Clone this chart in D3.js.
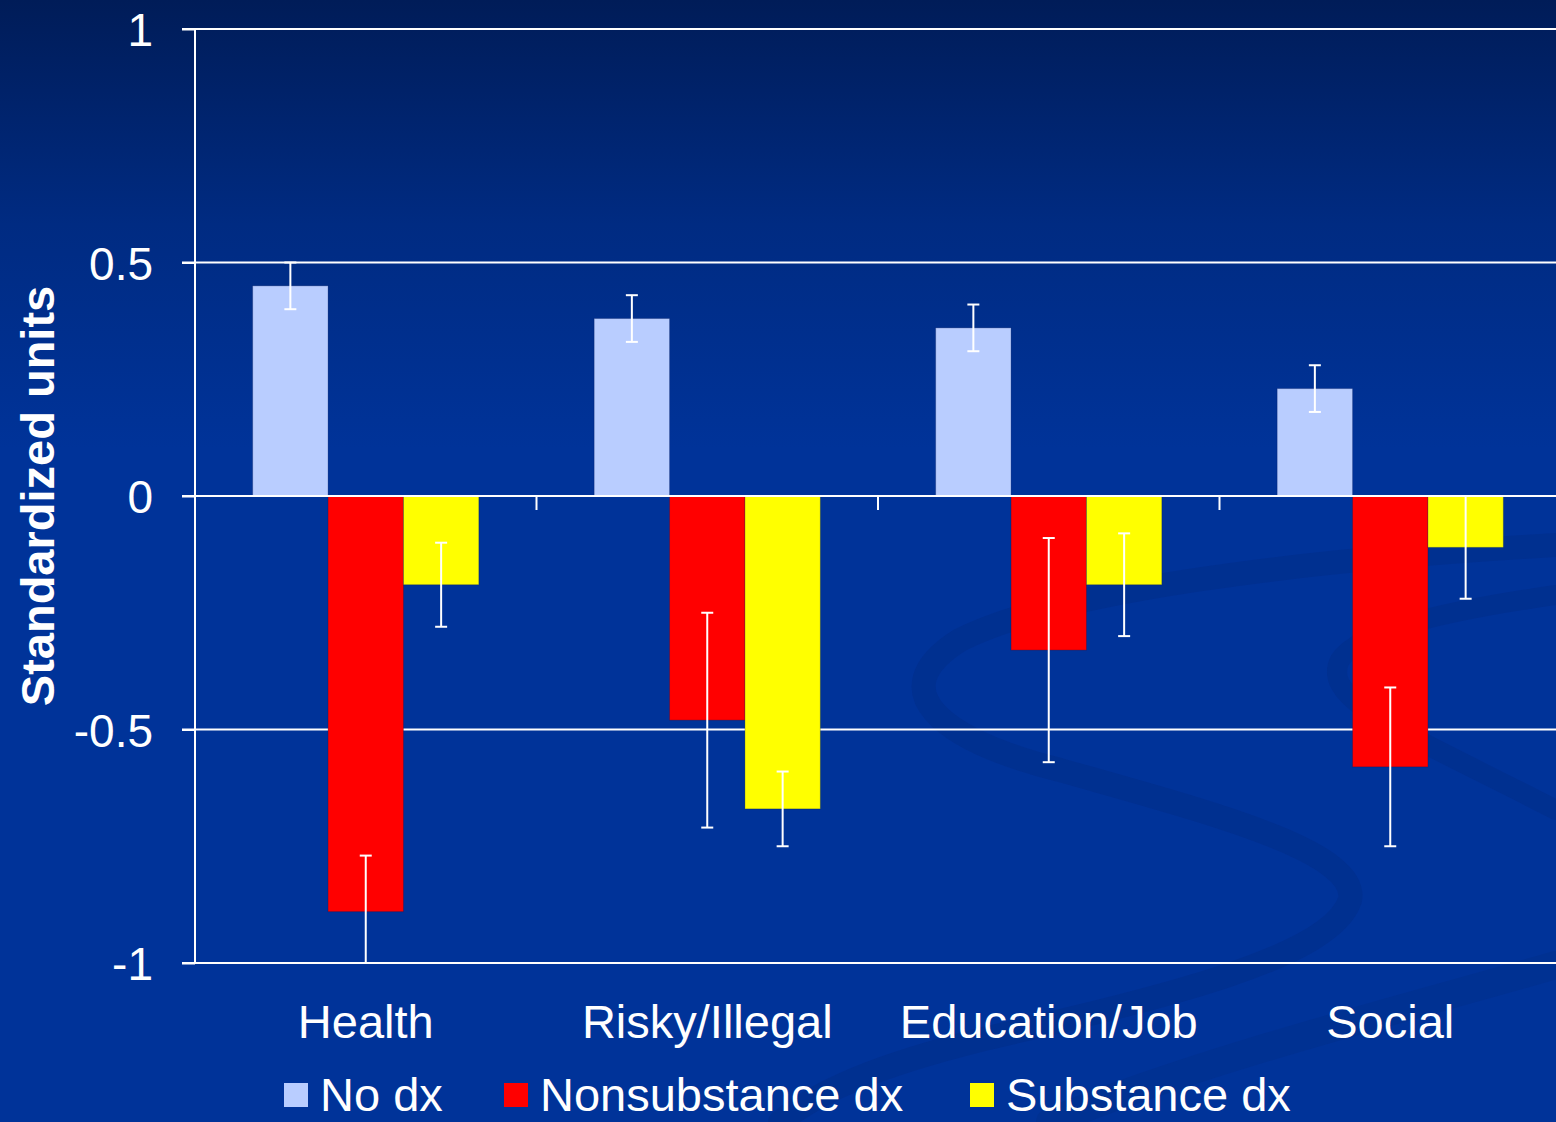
<!DOCTYPE html>
<html>
<head>
<meta charset="utf-8">
<script src="https://cdn.jsdelivr.net/npm/d3@7"></script>
<style>
  html, body { margin: 0; padding: 0; background: #003399; }
  svg { display: block; }
  text { font-family: "Liberation Sans", Arial, sans-serif; fill: #ffffff; }
</style>
</head>
<body>
<svg id="chart" width="1556" height="1122"></svg>
<script>
// ---- data ----
const categories = ["Health", "Risky/Illegal", "Education/Job", "Social"];
const seriesNames = ["No dx", "Nonsubstance dx", "Substance dx"];
const seriesColors = ["#b9cdff", "#ff0000", "#ffff00"];
const noDx = [0.45, 0.38, 0.36, 0.23];
const nonsubDx = [-0.89, -0.48, -0.33, -0.58];
const subDx = [-0.19, -0.67, -0.19, -0.11];
const noDxLow = [0.40, 0.33, 0.31, 0.18];
const noDxHigh = [0.50, 0.43, 0.41, 0.28];
const nonsubLow = [-1.00, -0.71, -0.57, -0.75];
const nonsubHigh = [-0.77, -0.25, -0.09, -0.41];
const subLow = [-0.28, -0.75, -0.30, -0.22];
const subHigh = [-0.10, -0.59, -0.08, 0.00];
const yTicks = [-1, -0.5, 0, 0.5, 1];
const yTickLabels = ["-1", "-0.5", "0", "0.5", "1"];
const yTitle = "Standardized units";

// ---- build rows ----
const values = [noDx, nonsubDx, subDx];
const lows = [noDxLow, nonsubLow, subLow];
const highs = [noDxHigh, nonsubHigh, subHigh];
const rows = [];
categories.forEach((c, i) => {
  seriesNames.forEach((s, j) => {
    rows.push({cat: c, series: s, si: j, v: values[j][i], lo: lows[j][i], hi: highs[j][i]});
  });
});

const svg = d3.select("#chart");
const W = 1556, H = 1122;

// ---- background ----
const defs = svg.append("defs");
const grad = defs.append("linearGradient").attr("id", "bg").attr("x1", 0).attr("y1", 0).attr("x2", 0).attr("y2", 1);
grad.append("stop").attr("offset", "0%").attr("stop-color", "#001c58");
grad.append("stop").attr("offset", "20%").attr("stop-color", "#002b82");
grad.append("stop").attr("offset", "40%").attr("stop-color", "#003399");
grad.append("stop").attr("offset", "100%").attr("stop-color", "#003399");
svg.append("rect").attr("width", W).attr("height", H).attr("fill", "url(#bg)");

// decorative swirls
const swirl = svg.append("g").attr("fill", "none").attr("stroke", "#00308f").attr("stroke-linecap", "round");
swirl.append("path")
  .attr("d", "M1556,545 C1300,560 1060,590 960,640 C880,690 940,740 1060,770 C1200,810 1360,850 1350,900 C1330,960 1150,1000 980,1040 C880,1065 820,1090 780,1122")
  .attr("stroke-width", 24).attr("opacity", 0.9);
swirl.append("path")
  .attr("d", "M1556,595 C1450,610 1360,630 1340,660 C1320,700 1400,730 1556,810")
  .attr("stroke-width", 20).attr("opacity", 0.9);
swirl.append("path")
  .attr("d", "M1556,965 C1400,1010 1200,1060 1050,1122")
  .attr("stroke-width", 28).attr("opacity", 0.7);

// ---- scales ----
const plotLeft = 195, plotTop = 29, plotBottom = 963;
const bandStep = 341.5;
const x0 = d3.scaleBand().domain(categories).range([plotLeft, plotLeft + bandStep * categories.length]).padding(0);
const x1 = d3.scaleBand().domain(seriesNames).range([0, x0.bandwidth()]).paddingInner(0).paddingOuter(0.765);
const y = d3.scaleLinear().domain([-1, 1]).range([plotBottom, plotTop]);
const color = d3.scaleOrdinal().domain(seriesNames).range(seriesColors);

// ---- gridlines ----
svg.append("g").selectAll("line").data(yTicks).join("line")
  .attr("x1", plotLeft - 13).attr("x2", W + 10)
  .attr("y1", d => y(d)).attr("y2", d => y(d))
  .attr("stroke", "#ffffff").attr("stroke-width", 2);

// ---- y axis ----
const yAxis = d3.axisLeft(y).tickValues(yTicks)
  .tickFormat(d => yTickLabels[yTicks.indexOf(d)])
  .tickSize(13).tickPadding(29);
const gy = svg.append("g").attr("transform", `translate(${plotLeft},0)`).call(yAxis);
gy.select(".domain").attr("stroke", "#ffffff").attr("stroke-width", 2).attr("d", `M0,${plotTop}V${plotBottom}`);
gy.selectAll(".tick line").attr("stroke", "#ffffff").attr("stroke-width", 2);
gy.selectAll(".tick text").attr("fill", "#ffffff").attr("font-size", 46)
  .attr("font-family", "'Liberation Sans', Arial, sans-serif").attr("dy", "0.36em");

// ---- bars ----
const bars = svg.append("g");
bars.selectAll("rect").data(rows).join("rect")
  .attr("x", d => x0(d.cat) + x1(d.series))
  .attr("width", x1.bandwidth())
  .attr("y", d => y(Math.max(0, d.v)))
  .attr("height", d => Math.abs(y(d.v) - y(0)))
  .attr("fill", d => color(d.series))
  .attr("stroke", "rgba(0,20,80,0.25)").attr("stroke-width", 1);

// ---- x axis at zero ----
const xAxis = d3.axisBottom(x0).tickSize(0).tickFormat("");
const gx = svg.append("g").attr("transform", `translate(0,${y(0)})`).call(xAxis);
gx.select(".domain").attr("stroke", "#ffffff").attr("stroke-width", 2)
  .attr("d", `M${plotLeft - 13},0H${W + 10}`);
const boundaries = categories.map(c => x0(c));
gx.selectAll("line.bound").data(boundaries).join("line").attr("class", "bound")
  .attr("x1", d => d).attr("x2", d => d).attr("y1", 0).attr("y2", 14)
  .attr("stroke", "#ffffff").attr("stroke-width", 2);

// ---- error bars ----
const eg = svg.append("g").attr("stroke", "#ffffff").attr("stroke-width", 2);
const capW = 6;
rows.forEach(d => {
  const cx = x0(d.cat) + x1(d.series) + x1.bandwidth() / 2;
  eg.append("line").attr("x1", cx).attr("x2", cx).attr("y1", y(d.hi)).attr("y2", y(d.lo));
  eg.append("line").attr("x1", cx - capW).attr("x2", cx + capW).attr("y1", y(d.hi)).attr("y2", y(d.hi));
  eg.append("line").attr("x1", cx - capW).attr("x2", cx + capW).attr("y1", y(d.lo)).attr("y2", y(d.lo));
});

// ---- category labels ----
svg.append("g").selectAll("text").data(categories).join("text")
  .attr("x", d => x0(d) + x0.bandwidth() / 2)
  .attr("y", 1038)
  .attr("text-anchor", "middle")
  .attr("font-size", 47)
  .text(d => d);

// ---- y title ----
svg.append("text")
  .attr("transform", `translate(54,496) rotate(-90)`)
  .attr("text-anchor", "middle")
  .attr("font-size", 47).attr("font-weight", "bold")
  .text(yTitle);

// ---- legend ----
const legendX = [284, 504, 970];
const lg = svg.append("g");
seriesNames.forEach((s, i) => {
  lg.append("rect").attr("x", legendX[i]).attr("y", 1083).attr("width", 24).attr("height", 24).attr("fill", color(s));
  lg.append("text").attr("x", legendX[i] + 36).attr("y", 1111).attr("font-size", 47).text(s);
});
</script>
</body>
</html>
